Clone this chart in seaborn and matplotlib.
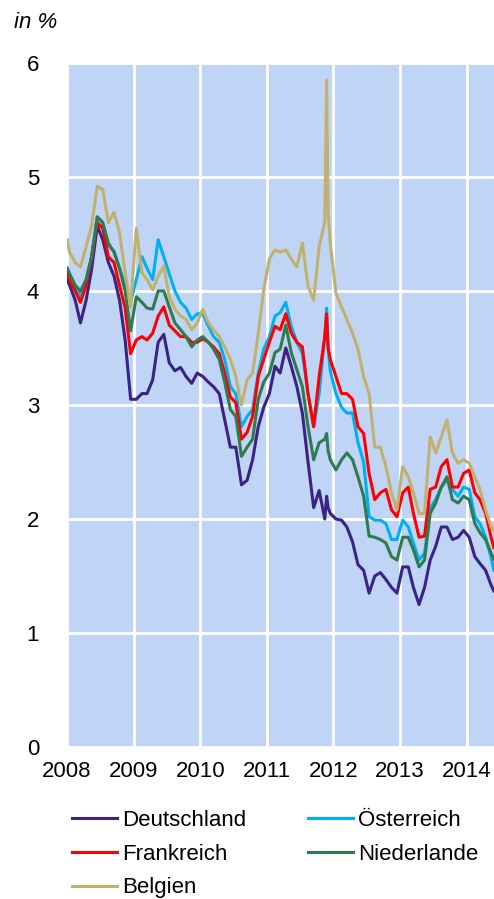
import pandas as pd
import seaborn as sns
import matplotlib.pyplot as plt
import matplotlib.dates as mdates

# monthly readings (mid-month) plus a start/end point and the Nov 2011 spike
months = [f"{y}-{m:02d}-15" for y in range(2008, 2015) for m in range(1, 13)][:77]
dates = ["2008-01-02"] + months[:47] + ["2011-11-25", "2011-12-03"] + months[47:] + ["2014-05-30"]

deutschland = [4.10,
    4.05, 3.92, 3.72, 3.92, 4.19, 4.57, 4.45, 4.25, 4.13, 3.92, 3.57, 3.05,
    3.05, 3.10, 3.10, 3.22, 3.55, 3.62, 3.37, 3.30, 3.33, 3.25, 3.19, 3.28,
    3.25, 3.20, 3.16, 3.10, 2.87, 2.63, 2.63, 2.30, 2.34, 2.52, 2.81, 2.98,
    3.10, 3.34, 3.28, 3.50, 3.34, 3.16, 2.93, 2.50, 2.10, 2.25, 2.00, 2.20, 2.10, 2.05,
    2.00, 1.99, 1.93, 1.80, 1.60, 1.55, 1.35, 1.50, 1.53, 1.47, 1.40, 1.35,
    1.58, 1.58, 1.40, 1.25, 1.40, 1.64, 1.76, 1.93, 1.93, 1.82, 1.84, 1.90,
    1.84, 1.67, 1.61, 1.55, 1.42, 1.37]

oesterreich = [4.20,
    4.15, 4.05, 3.95, 4.10, 4.30, 4.65, 4.60, 4.40, 4.35, 4.20, 4.05, 3.90,
    4.10, 4.30, 4.20, 4.10, 4.45, 4.30, 4.15, 4.00, 3.90, 3.85, 3.75, 3.80,
    3.80, 3.69, 3.60, 3.55, 3.40, 3.16, 3.10, 2.81, 2.90, 2.96, 3.28, 3.49,
    3.60, 3.78, 3.81, 3.90, 3.69, 3.55, 3.45, 3.10, 2.81, 3.10, 3.60, 3.85, 3.50, 3.30,
    3.10, 2.98, 2.93, 2.93, 2.67, 2.50, 2.02, 1.99, 1.99, 1.96, 1.82, 1.82,
    1.99, 1.93, 1.79, 1.64, 1.70, 2.10, 2.17, 2.28, 2.34, 2.26, 2.20, 2.28,
    2.26, 2.02, 1.96, 1.84, 1.66, 1.55]

frankreich = [4.15,
    4.10, 4.00, 3.90, 4.05, 4.30, 4.60, 4.55, 4.30, 4.25, 4.05, 3.85, 3.45,
    3.57, 3.60, 3.57, 3.63, 3.78, 3.86, 3.70, 3.65, 3.60, 3.60, 3.55, 3.55,
    3.58, 3.55, 3.51, 3.45, 3.28, 3.07, 3.02, 2.70, 2.76, 2.90, 3.25, 3.40,
    3.55, 3.69, 3.66, 3.80, 3.63, 3.55, 3.51, 3.10, 2.81, 3.25, 3.60, 3.80, 3.50, 3.40,
    3.25, 3.10, 3.10, 3.05, 2.81, 2.75, 2.40, 2.17, 2.23, 2.26, 2.08, 2.02,
    2.23, 2.28, 2.05, 1.84, 1.85, 2.26, 2.28, 2.46, 2.52, 2.28, 2.28, 2.40,
    2.43, 2.23, 2.17, 2.05, 1.84, 1.75]

niederlande = [4.20,
    4.15, 4.05, 4.00, 4.10, 4.30, 4.65, 4.60, 4.42, 4.34, 4.20, 4.00, 3.65,
    3.95, 3.90, 3.85, 3.84, 4.00, 4.00, 3.86, 3.72, 3.66, 3.60, 3.51, 3.57,
    3.60, 3.55, 3.49, 3.40, 3.20, 2.96, 2.90, 2.55, 2.63, 2.70, 3.05, 3.20,
    3.28, 3.46, 3.49, 3.70, 3.46, 3.31, 3.16, 2.81, 2.52, 2.67, 2.70, 2.75, 2.60, 2.52,
    2.43, 2.52, 2.58, 2.52, 2.37, 2.20, 1.85, 1.84, 1.82, 1.79, 1.67, 1.64,
    1.84, 1.84, 1.73, 1.58, 1.64, 2.05, 2.14, 2.28, 2.37, 2.17, 2.14, 2.20,
    2.17, 1.96, 1.88, 1.82, 1.70, 1.65]

belgien = [4.45,
    4.34, 4.25, 4.21, 4.39, 4.57, 4.92, 4.89, 4.60, 4.69, 4.51, 4.16, 3.86,
    4.55, 4.16, 4.10, 4.01, 4.13, 4.22, 3.95, 3.84, 3.78, 3.75, 3.66, 3.72,
    3.84, 3.72, 3.66, 3.60, 3.51, 3.40, 3.25, 3.00, 3.22, 3.28, 3.63, 4.01,
    4.28, 4.36, 4.34, 4.36, 4.28, 4.21, 4.42, 4.04, 3.92, 4.39, 4.60, 5.85, 4.70, 4.42,
    3.98, 3.86, 3.75, 3.63, 3.49, 3.25, 3.10, 2.63, 2.63, 2.46, 2.23, 2.08,
    2.46, 2.37, 2.23, 2.05, 2.05, 2.72, 2.58, 2.72, 2.87, 2.58, 2.49, 2.52,
    2.49, 2.37, 2.26, 2.08, 1.93, 1.90]

names = ["Deutschland", "Österreich", "Frankreich", "Niederlande", "Belgien"]
colors = ["#3b2383", "#00b0f0", "#ff0000", "#2f7b4f", "#c0b26c"]
series = [deutschland, oesterreich, frankreich, niederlande, belgien]

df = pd.concat([pd.DataFrame({"Datum": pd.to_datetime(dates), "Rendite": v, "Land": n})
                for n, v in zip(names, series)], ignore_index=True)

plt.rcParams["font.family"] = ["Liberation Sans", "DejaVu Sans"]

fig = plt.figure(figsize=(4.94, 8.99), dpi=100)
ax = fig.add_axes([0.1356, 0.169, 0.8644, 0.761])
ax.set_facecolor("#c0d4f6")

sns.lineplot(data=df, x="Datum", y="Rendite", hue="Land", hue_order=names,
             palette=colors, linewidth=2.2, legend=False, ax=ax)

ax.set_ylim(0, 6)
ax.set_yticks(range(7))
ax.set_xlim(pd.Timestamp("2008-01-01"), pd.Timestamp("2014-05-31"))
ax.xaxis.set_major_locator(mdates.YearLocator())
ax.xaxis.set_major_formatter(mdates.DateFormatter("%Y"))
ax.grid(True, color="white", linewidth=2)
ax.set_axisbelow(True)
for s in ax.spines.values():
    s.set_visible(False)
ax.tick_params(length=0, labelsize=16)
ax.tick_params(axis="y", pad=20)
ax.tick_params(axis="x", pad=10)
ax.set_xlabel("")
ax.set_ylabel("")

fig.text(0.028, 0.975, "in %", fontsize=16, style="italic", va="center", ha="left")

lines = ax.get_lines()[:5]
order = [0, 2, 4, 1, 3]
fig.legend([lines[i] for i in order], [names[i] for i in order], ncol=2,
           loc="upper left", bbox_to_anchor=(0.146, 0.099), frameon=False,
           fontsize=16, handlelength=2.0, handletextpad=0.25, columnspacing=2.8,
           labelspacing=0.57, borderpad=0, borderaxespad=0)

fig.savefig("out.png", dpi=100)
